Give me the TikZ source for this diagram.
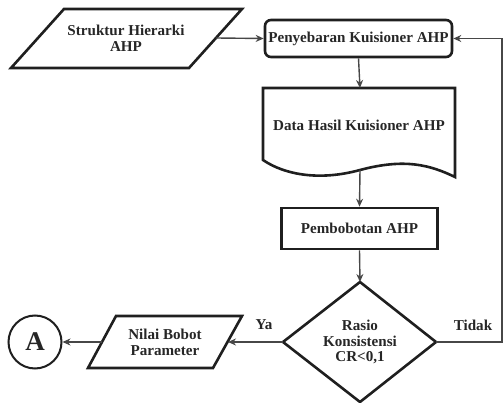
\documentclass[tikz,border=0pt]{standalone}
\usepackage{fontspec}
\setmainfont{Liberation Serif}
\usetikzlibrary{arrows.meta}
\begin{document}
\begin{tikzpicture}[x=1pt,y=-1pt,
  shapeline/.style={draw=black!88,line width=2.6pt,line join=miter},
  label/.style={font=\fontsize{15.1}{15.8}\selectfont\bfseries,text=black!85,align=center},
  flow/.style={draw=black!72,line width=1.4pt,-{Stealth[length=8pt,width=7pt]}}]
\useasboundingbox (0,0) rectangle (504,403);

% input: hierarchy structure
\draw[shapeline] (64,9) -- (242,9) -- (189,68) -- (11,68) -- cycle;
\node[label] (struktur) at (126,38) {Struktur Hierarki\\AHP};
\coordinate (strukturR) at (216,38);

% questionnaire distribution
\node[shapeline,rounded corners=6pt,minimum width=187pt,minimum height=37pt,
      label] (sebar) at (358.5,38.5) {Penyebaran Kuisioner AHP};

% questionnaire results (document)
\draw[shapeline] (263,88) -- (455,88) -- (455,177)
  .. controls (430,165) and (405,158) .. (360,170)
  .. controls (320,181) and (285,175) .. (263,160) -- cycle;
\node[label] (data) at (359,125) {Data Hasil Kuisioner AHP};
\coordinate (dataB) at (360,170);
\coordinate (dataT) at (360,88);

% weighting
\node[shapeline,minimum width=156pt,minimum height=41pt,label] (bobot) at (359.5,228.5) {Pembobotan AHP};

% consistency check
\coordinate (dT) at (360,282);
\coordinate (dL) at (283,342);
\coordinate (dR) at (436,342);
\coordinate (dB) at (360,402);
\draw[shapeline] (dT) -- (dR) -- (dB) -- (dL) -- cycle;
\node[label] (rasio) at (360,342) {Rasio\\Konsistensi\\CR<0,1};

% output: parameter weights
\draw[shapeline] (116,316) -- (242,316) -- (213,368) -- (88,368) -- cycle;
\node[label] (nilai) at (165,342) {Nilai Bobot\\Parameter};
\coordinate (nilaiR) at (228,342);
\coordinate (nilaiL) at (102,342);

% connector
\node[draw=black!88,line width=2pt,circle,minimum size=53pt,inner sep=0pt,
      font=\fontsize{27}{28}\selectfont\bfseries,text=black!85] (A) at (35,342) {A};

% feedback corner
\coordinate (fbB) at (502,342);
\coordinate (fbT) at (502,38.5);

\draw[flow] (strukturR) -- (sebar.west);
\draw[flow] (sebar.south) -- (dataT);
\draw[flow] (dataB) -- (bobot.north);
\draw[flow] (bobot.south) -- (dT);
\draw[flow] (dL) -- (nilaiR);
\draw[flow] (nilaiL) -- (A.east);
\draw[flow] (dR) -- (fbB) -- (fbT) -- (sebar.east);

\node[label] (ya) at (264,325) {Ya};
\node[label] (tidak) at (473,325) {Tidak};
\end{tikzpicture}
\end{document}
